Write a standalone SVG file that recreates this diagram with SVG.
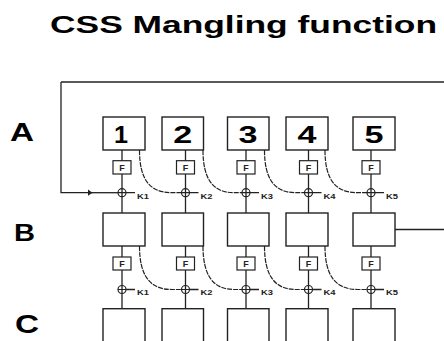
<svg xmlns="http://www.w3.org/2000/svg" width="444" height="341" viewBox="0 0 444 341">
<defs>
<style>
.box{fill:#fff;stroke:#222;stroke-width:1.4}
.fb{fill:#fff;stroke:#222;stroke-width:1.2}
.ln{fill:none;stroke:#222;stroke-width:1.3}
.cv{fill:none;stroke:#222;stroke-width:1.2;stroke-dasharray:5 1}
.xo{fill:none;stroke:#222;stroke-width:1.2}
.big{font-family:"Liberation Sans",Arial,sans-serif;font-weight:bold;fill:#000}
.num{font-family:"Liberation Sans",Arial,sans-serif;font-weight:bold;font-size:24px;text-anchor:middle;fill:#000}
.f{font-family:"Liberation Sans",Arial,sans-serif;font-weight:bold;font-size:9px;text-anchor:middle;fill:#222}
.k{font-family:"Liberation Sans",Arial,sans-serif;font-size:8px;font-weight:bold;fill:#222}
</style>
<marker id="arr" markerWidth="6" markerHeight="8" refX="5" refY="4" orient="auto" markerUnits="userSpaceOnUse">
<path d="M0,0.5 L5,4 L0,7.5 Z" fill="#222"/>
</marker>
</defs>
<rect width="444" height="341" fill="#fff"/>
<text class="big" x="50" y="33.3" font-size="24" textLength="387" lengthAdjust="spacingAndGlyphs">CSS Mangling function</text>
<text class="big" x="10" y="140.7" font-size="25" textLength="24" lengthAdjust="spacingAndGlyphs">A</text>
<text class="big" x="14" y="240.7" font-size="24" textLength="21" lengthAdjust="spacingAndGlyphs">B</text>
<text class="big" x="15" y="333" font-size="26" textLength="24" lengthAdjust="spacingAndGlyphs">C</text>

<g id="connectors">
<path class="ln" d="M61,82 L444,82"/>
<path class="ln" d="M395,229.5 L444,229.5"/>
<path class="ln" d="M61,82 L61,192.7 L92.5,192.7" marker-end="url(#arr)"/>
<path class="ln" d="M92,192.7 L118,192.7"/>
<path class="ln" d="M122,150 V213 M185.5,150 V213 M246,150 V213 M308.5,150 V213 M371,150 V213"/>
<path class="ln" d="M122,246 V308.7 M185.5,246 V308.7 M246,246 V308.7 M308.5,246 V308.7 M371,246 V308.7"/>
<path class="ln" d="M126,192.7 H135 M189.5,192.7 H198.5 M250,192.7 H259 M312.5,192.7 H321.5 M375,192.7 H384"/>
<path class="ln" d="M126,289.5 H135 M189.5,289.5 H198.5 M250,289.5 H259 M312.5,289.5 H321.5 M375,289.5 H384"/>
<path class="cv" d="M139.5,150 C139.5,180 150,192.7 172,192.7 L181.5,192.7"/>
<path class="cv" d="M203,150 C203,180 213.5,192.7 234,192.7 L242,192.7"/>
<path class="cv" d="M264.5,150 C264.5,180 275,192.7 296,192.7 L304.5,192.7"/>
<path class="cv" d="M325,150 C325,180 335.5,192.7 358,192.7 L367,192.7"/>
<path class="cv" d="M139.5,246 C139.5,276 150,289.5 172,289.5 L181.5,289.5"/>
<path class="cv" d="M203,246 C203,276 213.5,289.5 234,289.5 L242,289.5"/>
<path class="cv" d="M264.5,246 C264.5,276 275,289.5 296,289.5 L304.5,289.5"/>
<path class="cv" d="M325,246 C325,276 335.5,289.5 358,289.5 L367,289.5"/>
</g>

<g id="xor">
<g class="xo">
<circle cx="122" cy="192.7" r="4"/><circle cx="185.5" cy="192.7" r="4"/><circle cx="246" cy="192.7" r="4"/><circle cx="308.5" cy="192.7" r="4"/><circle cx="371" cy="192.7" r="4"/>
<circle cx="122" cy="289.5" r="4"/><circle cx="185.5" cy="289.5" r="4"/><circle cx="246" cy="289.5" r="4"/><circle cx="308.5" cy="289.5" r="4"/><circle cx="371" cy="289.5" r="4"/>
<path d="M118,192.7 H126 M181.5,192.7 H189.5 M242,192.7 H250 M304.5,192.7 H312.5 M367,192.7 H375"/>
<path d="M118,289.5 H126 M181.5,289.5 H189.5 M242,289.5 H250 M304.5,289.5 H312.5 M367,289.5 H375"/>
</g>
<g class="k">
<text x="137" y="198.5" textLength="12" lengthAdjust="spacingAndGlyphs">K1</text>
<text x="200.5" y="198.5" textLength="12" lengthAdjust="spacingAndGlyphs">K2</text>
<text x="261" y="198.5" textLength="12" lengthAdjust="spacingAndGlyphs">K3</text>
<text x="323.5" y="198.5" textLength="12" lengthAdjust="spacingAndGlyphs">K4</text>
<text x="386" y="198.5" textLength="12" lengthAdjust="spacingAndGlyphs">K5</text>
<text x="137" y="295.3" textLength="12" lengthAdjust="spacingAndGlyphs">K1</text>
<text x="200.5" y="295.3" textLength="12" lengthAdjust="spacingAndGlyphs">K2</text>
<text x="261" y="295.3" textLength="12" lengthAdjust="spacingAndGlyphs">K3</text>
<text x="323.5" y="295.3" textLength="12" lengthAdjust="spacingAndGlyphs">K4</text>
<text x="386" y="295.3" textLength="12" lengthAdjust="spacingAndGlyphs">K5</text>
</g>
</g>

<g id="A1"><rect class="box" x="103" y="117" width="42" height="33"/><text class="num" x="121" y="142.5" textLength="14" lengthAdjust="spacingAndGlyphs">1</text></g>
<g id="A2"><rect class="box" x="162" y="117" width="41.5" height="33"/><text class="num" x="182.7" y="142.5" textLength="19" lengthAdjust="spacingAndGlyphs">2</text></g>
<g id="A3"><rect class="box" x="227.5" y="117" width="41.5" height="33"/><text class="num" x="248" y="142.5" textLength="19" lengthAdjust="spacingAndGlyphs">3</text></g>
<g id="A4"><rect class="box" x="286" y="117" width="42" height="33"/><text class="num" x="307" y="142.5" textLength="19" lengthAdjust="spacingAndGlyphs">4</text></g>
<g id="A5"><rect class="box" x="353" y="117" width="42" height="33"/><text class="num" x="374" y="142.5" textLength="19" lengthAdjust="spacingAndGlyphs">5</text></g>

<g id="FA1"><rect class="fb" x="113" y="160.7" width="18" height="13.3"/><text class="f" x="122" y="170.8">F</text></g>
<g id="FA2"><rect class="fb" x="176.5" y="160.7" width="18" height="13.3"/><text class="f" x="185.5" y="170.8">F</text></g>
<g id="FA3"><rect class="fb" x="237" y="160.7" width="18" height="13.3"/><text class="f" x="246" y="170.8">F</text></g>
<g id="FA4"><rect class="fb" x="299.5" y="160.7" width="18" height="13.3"/><text class="f" x="308.5" y="170.8">F</text></g>
<g id="FA5"><rect class="fb" x="362" y="160.7" width="18" height="13.3"/><text class="f" x="371" y="170.8">F</text></g>

<g id="B1"><rect class="box" x="103" y="213" width="42" height="33"/></g>
<g id="B2"><rect class="box" x="162" y="213" width="41.5" height="33"/></g>
<g id="B3"><rect class="box" x="227.5" y="213" width="41.5" height="33"/></g>
<g id="B4"><rect class="box" x="286" y="213" width="42" height="33"/></g>
<g id="B5"><rect class="box" x="353" y="213" width="42" height="33"/></g>

<g id="FB1"><rect class="fb" x="113" y="257" width="18" height="13"/><text class="f" x="122" y="267">F</text></g>
<g id="FB2"><rect class="fb" x="176.5" y="257" width="18" height="13"/><text class="f" x="185.5" y="267">F</text></g>
<g id="FB3"><rect class="fb" x="237" y="257" width="18" height="13"/><text class="f" x="246" y="267">F</text></g>
<g id="FB4"><rect class="fb" x="299.5" y="257" width="18" height="13"/><text class="f" x="308.5" y="267">F</text></g>
<g id="FB5"><rect class="fb" x="362" y="257" width="18" height="13"/><text class="f" x="371" y="267">F</text></g>

<g id="C1"><rect class="box" x="103" y="308.7" width="42" height="40"/></g>
<g id="C2"><rect class="box" x="162" y="308.7" width="41.5" height="40"/></g>
<g id="C3"><rect class="box" x="227.5" y="308.7" width="41.5" height="40"/></g>
<g id="C4"><rect class="box" x="286" y="308.7" width="42" height="40"/></g>
<g id="C5"><rect class="box" x="353" y="308.7" width="42" height="40"/></g>
</svg>
